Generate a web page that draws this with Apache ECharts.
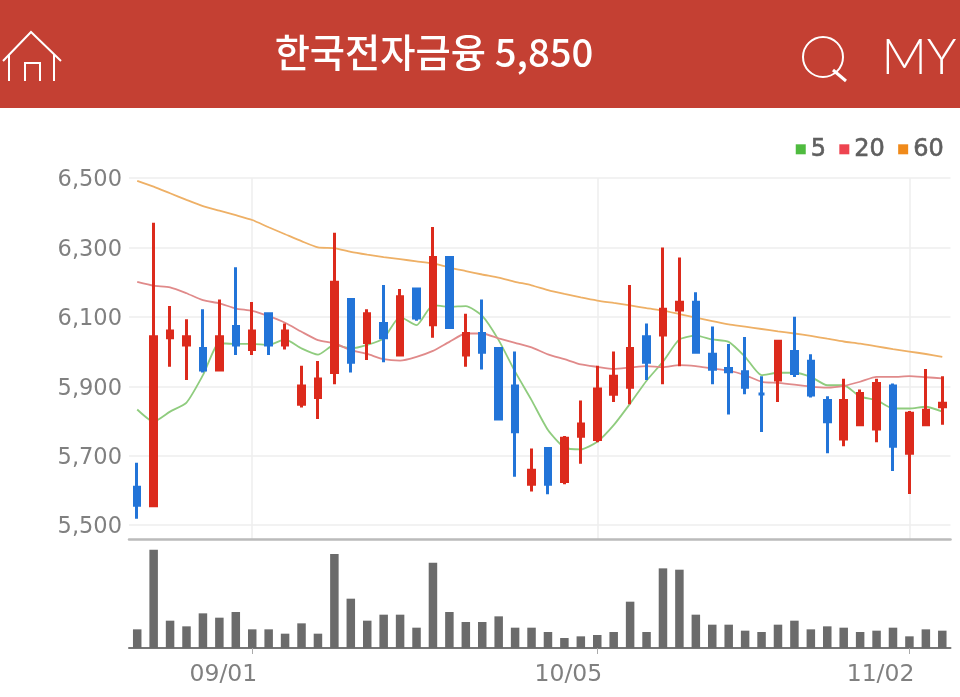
<!DOCTYPE html>
<html><head><meta charset="utf-8">
<style>html,body{margin:0;padding:0;background:#fff}#c{width:960px;height:697px}</style>
<script src="https://cdn.jsdelivr.net/npm/echarts@6/dist/echarts.min.js"></script>
</head><body><div id="c"></div>
<script>
const titleText = '한국전자금융 5,850';
const categories = ['08/21','08/24','08/25','08/26','08/27','08/28','08/31','09/01','09/02','09/03','09/04','09/07','09/08','09/09','09/10','09/11','09/14','09/15','09/16','09/17','09/18','09/21','09/22','09/23','09/24','09/25','09/30','10/01','10/05','10/06','10/07','10/08','10/12','10/13','10/14','10/15','10/16','10/19','10/20','10/21','10/22','10/23','10/26','10/27','10/28','10/29','10/30','11/02','11/03','11/04'];
const shownDates = ['09/01','10/05','11/02'];
const priceTicks = [5500,5700,5900,6100,6300,6500];
// open, close, low, high
const candles = [
[5609,5557,5518,5680],[5556,6043,5556,6371],[6040,6059,5956,6131],[6019,6043,5918,6093],[6009,5947,5940,6122],
[5947,6043,5947,6150],[6072,6019,5990,6243],[6006,6059,5990,6143],[6109,6019,5990,6109],[6019,6059,6006,6081],
[5848,5901,5839,5959],[5868,5921,5806,5973],[5940,6200,5906,6342],[6150,5969,5940,6150],[6026,6109,5976,6122],
[6081,6040,5969,6192],[5990,6158,5990,6180],[6180,6097,6089,6180],[6077,6271,6040,6359],[6271,6069,6069,6271],
[5990,6052,5956,6109],[6052,5998,5948,6150],[6009,5806,5806,6009],[5901,5769,5639,6000],[5618,5658,5597,5721],
[5721,5618,5589,5721],[5626,5750,5618,5757],[5756,5791,5677,5859],[5747,5892,5739,5959],[5877,5929,5855,6000],
[5897,6009,5848,6192],[6043,5969,5918,6081],[6048,6122,5906,6300],[6120,6142,5958,6271],[6142,5998,5998,6171],
[5992,5949,5906,6072],[5951,5942,5819,6022],[5942,5897,5877,6042],[5878,5878,5768,5929],[5918,6030,5855,6030],
[6000,5937,5927,6100],[5972,5875,5868,5992],[5859,5798,5707,5871],[5748,5859,5727,5922],[5789,5879,5789,5891],
[5777,5908,5739,5922],[5901,5727,5656,5908],[5707,5822,5590,5829],[5789,5831,5789,5950],[5841,5851,5789,5929]];
const ma5 = [5833,5798,5827,5853,5932,6024,6022,6022,6019,6035,6009,5991,6019,6009,6019,6038,6100,6076,6134,6129,6131,6103,6033,5942,5860,5774,5724,5718,5740,5788,5850,5916,5971,6035,6046,6035,6028,5985,5932,5939,5939,5927,5903,5903,5870,5860,5836,5836,5841,5827];
const ma20 = [6201,6190,6185,6168,6148,6139,6124,6117,6102,6083,6057,6033,6024,6004,5993,5978,5974,5985,6002,6028,6052,6052,6038,6025,6012,5992,5978,5963,5956,5950,5954,5958,5955,5961,5958,5951,5945,5932,5913,5910,5905,5899,5896,5901,5913,5927,5927,5929,5926,5923];
const ma60 = [6492,6475,6456,6437,6419,6406,6393,6379,6358,6338,6318,6300,6298,6287,6279,6272,6266,6260,6254,6242,6232,6222,6213,6201,6191,6177,6166,6156,6147,6140,6133,6125,6118,6108,6098,6088,6078,6072,6065,6058,6052,6045,6037,6029,6023,6015,6007,6000,5993,5985];
const volume = [56,295,82,65,104,91,108,56,56,43,74,43,282,148,82,100,100,61,256,108,78,78,95,61,61,48,30,35,39,48,139,48,239,235,100,70,70,52,48,70,82,56,65,61,48,52,61,35,56,52];

const isShown = (i, v) => shownDates.includes(v ?? categories[i]);
const UP = '#dc2a1c', DOWN = '#2274d8';
const white = {stroke:'#fff', lineWidth:2, fill:null};
const chart = echarts.init(document.getElementById('c'));
chart.setOption({
  animation:false, backgroundColor:'#fff',
  textStyle:{fontFamily:'"DejaVu Sans"'},
  legend:{right:11, top:132, itemWidth:10, itemHeight:10, itemGap:13, icon:'rect', data:['5','20','60'],
    textStyle:{fontFamily:'"DejaVu Sans"', fontSize:24, color:'#5f5f5f', textBorderColor:'#5f5f5f', textBorderWidth:0.6}},
  grid:[{left:129,right:9.5,top:178,height:361},{left:129,right:9.5,top:549.7,height:98.3}],
  xAxis:[
    {type:'category',gridIndex:0,data:categories,boundaryGap:true,
     axisLine:{lineStyle:{color:'#bbb',width:2.5}},axisTick:{show:false},axisLabel:{show:false},
     splitLine:{show:true,alignWithLabel:true,interval:isShown,lineStyle:{color:'#eee',width:1.5}}},
    {type:'category',gridIndex:1,data:categories,boundaryGap:true,
     axisLine:{lineStyle:{color:'#777',width:2}},
     axisTick:{show:true,alignWithLabel:true,interval:isShown,length:6,lineStyle:{color:'#aaa'}},
     axisLabel:{show:true,interval:isShown,margin:15,fontSize:23.5,color:'#808080',align:'right',padding:[0,-5,0,0]},
     splitLine:{show:false}}
  ],
  yAxis:[
    {type:'value',gridIndex:0,min:5460,max:6500,
     axisLine:{show:false},axisTick:{show:false,customValues:priceTicks},
     axisLabel:{customValues:priceTicks,margin:7,color:'#808080',
       formatter:v=>'{t|'+v.toLocaleString('en-US')+'}',
       rich:{t:{fontSize:22.5,color:'#808080',fontFamily:'"DejaVu Sans"',padding:[5,0,0,0]}}},
     splitLine:{lineStyle:{color:'#eee',width:1.5}}},
    {type:'value',gridIndex:1,min:0,max:295,axisLine:{show:false},axisTick:{show:false},axisLabel:{show:false},splitLine:{show:false}}
  ],
  series:[
    {name:'5',type:'line',data:ma5,xAxisIndex:0,yAxisIndex:0,symbol:'none',smooth:0.2,z:2,
     lineStyle:{color:'#8fcc7e',width:1.8},itemStyle:{color:'#4fbb3f'}},
    {name:'20',type:'line',data:ma20,xAxisIndex:0,yAxisIndex:0,symbol:'none',smooth:0.2,z:2,
     lineStyle:{color:'#e08a8a',width:1.8},itemStyle:{color:'#ee4450'}},
    {name:'60',type:'line',data:ma60,xAxisIndex:0,yAxisIndex:0,symbol:'none',smooth:0.2,z:2,
     lineStyle:{color:'#eeb066',width:1.8},itemStyle:{color:'#f08a1a'}},
    {name:'price',type:'candlestick',data:candles,xAxisIndex:0,yAxisIndex:0,barWidth:6,z:3,
     itemStyle:{color:UP,color0:DOWN,borderColor:UP,borderColor0:DOWN,borderWidth:3}},
    {name:'volume',type:'bar',data:volume,xAxisIndex:1,yAxisIndex:1,barWidth:8.5,itemStyle:{color:'#6b6b6b'}}
  ],
  graphic:[
    {type:'rect',z:0,shape:{x:0,y:0,width:960,height:108},style:{fill:'#c44033'}},
    {type:'text',z:1,x:434,y:52,style:{text:titleText,fill:'#fff',font:'500 38.3px "Noto Sans CJK KR"',align:'center',verticalAlign:'middle'}},
    {type:'polyline',z:1,shape:{points:[[3,61],[31,32],[61,61]]},style:white},
    {type:'polyline',z:1,shape:{points:[[9,54],[9,81]]},style:white},
    {type:'polyline',z:1,shape:{points:[[54,54],[54,81]]},style:white},
    {type:'polyline',z:1,shape:{points:[[25,81],[25,63],[40,63],[40,81]]},style:white},
    {type:'circle',z:1,shape:{cx:823,cy:57,r:20},style:white},
    {type:'polyline',z:1,shape:{points:[[833,70],[846,81]]},style:{stroke:'#fff',lineWidth:3,fill:null}},
    {type:'text',z:1,x:919,y:58,style:{text:'MY',fill:'#fff',font:'300 50px "Lato"',align:'center',verticalAlign:'middle'}}
  ]
});
</script></body></html>
